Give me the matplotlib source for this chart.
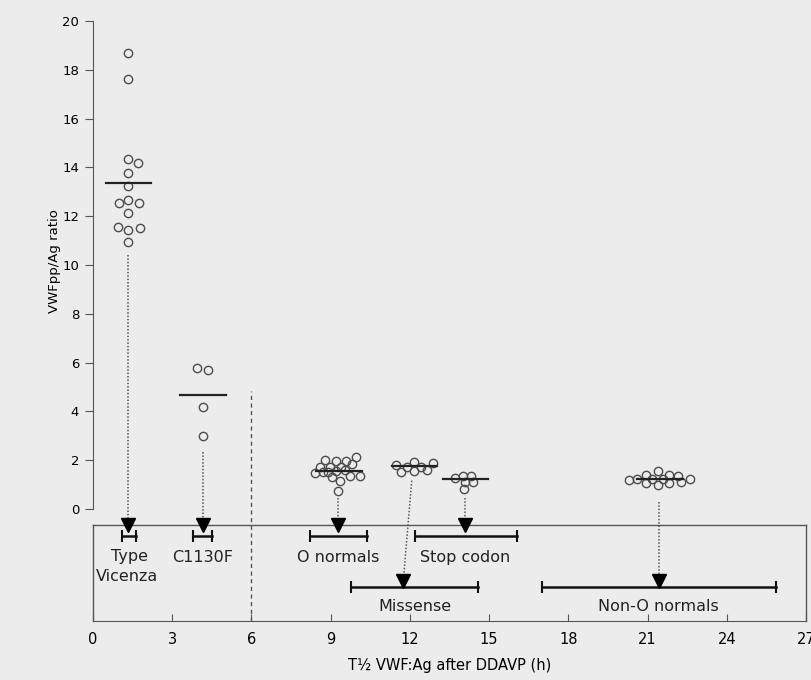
import matplotlib
matplotlib.use('Agg')
import matplotlib.pyplot as plt
import numpy as np

# groups shown in the scatter part (ratio VWFpp/Ag) and their range on T1/2 axis
groups = ['Type\nVicenza', 'C1130F', 'O normals', 'Missense', 'Stop codon', 'Non-O normals']

# individual points: x (hours, with scatter offset) and y (ratio)
vic_x = [1.34, 1.34, 1.34, 1.70, 1.34, 1.34, 1.34, 0.97, 1.73, 1.34, 0.94, 1.34, 1.78, 1.34]
vic_y = [18.7, 17.64, 14.34, 14.2, 13.76, 13.25, 12.66, 12.53, 12.53, 12.14, 11.57, 11.43, 11.53, 10.93]
c11_x = [3.95, 4.37, 4.15, 4.15]
c11_y = [5.79, 5.70, 4.19, 2.99]
onorm_x = [9.95, 8.79, 9.19, 9.57, 8.60, 8.98, 9.39, 9.81, 8.41, 8.72, 9.04, 9.36, 9.73, 10.11, 9.29, 9.20, 9.55, 8.90]
onorm_y = [2.13, 2.00, 1.97, 1.98, 1.73, 1.73, 1.73, 1.84, 1.46, 1.53, 1.32, 1.16, 1.35, 1.36, 0.74, 1.55, 1.60, 1.50]
mis_x = [11.48, 11.67, 11.90, 12.16, 12.16, 12.42, 12.66, 12.89]
mis_y = [1.80, 1.53, 1.71, 1.91, 1.57, 1.73, 1.60, 1.87]
stop_x = [13.71, 14.00, 14.30, 14.09, 14.40, 14.05]
stop_y = [1.26, 1.37, 1.37, 1.09, 1.09, 0.82]
nono_x = [20.28, 20.59, 20.93, 21.39, 21.82, 22.17, 22.61, 20.93, 21.39, 21.82, 22.27, 21.15, 21.60]
nono_y = [1.19, 1.22, 1.39, 1.56, 1.39, 1.35, 1.22, 1.05, 0.98, 1.05, 1.12, 1.25, 1.25]

pts_x = [vic_x, c11_x, onorm_x, mis_x, stop_x, nono_x]
pts_y = [vic_y, c11_y, onorm_y, mis_y, stop_y, nono_y]

# group means (horizontal bar) and centre in hours
mean_x = [1.34, 4.17, 9.32, 12.17, 14.11, 21.47]
mean_y = [13.35, 4.69, 1.56, 1.76, 1.23, 1.24]

# dotted arrows: start (under the cluster) -> x where they land
arrow_x0 = [1.34, 4.15, 9.29, 12.07, 14.09, 21.44]
arrow_y0 = [10.4, 2.35, 0.44, 1.16, 0.45, 0.30]
arrow_x1 = [1.34, 4.15, 9.29, 11.75, 14.09, 21.44]

# T1/2 range of each group (hours)
range_lo = [1.09, 3.80, 8.21, 9.78, 12.18, 17.00]
range_hi = [1.62, 4.52, 10.37, 14.57, 16.06, 25.87]

# layout inside the lower box
row = [0, 0, 0, 1, 0, 1]
bar_y = {0: -1.1, 1: -3.18}
head_y = {0: -0.66, 1: -2.95}
label_y = {0: -2.0, 1: -4.0}

bg = '#ececec'
fig = plt.figure(figsize=(8.12, 6.80), dpi=100, facecolor=bg)
ax = fig.add_axes([93 / 812, 59 / 680, 713 / 812, 600 / 680])
ax.set_facecolor(bg)
ax.set_xlim(0, 27)
ax.set_ylim(-4.59, 20)

for xs, ys in zip(pts_x, pts_y):
    ax.plot(xs, ys, 'o', ls='none', mfc='none', mec='#4d4d4d', ms=6, mew=1.0, zorder=3)

for mx, my in zip(mean_x, mean_y):
    ax.plot([mx - 0.86, mx + 0.86], [my, my], color='#222222', lw=1.6, zorder=4)

# box under the scatter
box_top = -0.66
ax.plot([0, 27], [box_top, box_top], color='#555555', lw=1.0, clip_on=False)
ax.plot([27, 27], [-4.59, box_top], color='#555555', lw=1.0, clip_on=False)
ax.plot([0, 0], [-4.59, box_top], color='#555555', lw=1.0, clip_on=False)

for i in range(len(groups)):
    r = row[i]
    ax.plot([arrow_x0[i], arrow_x1[i]], [arrow_y0[i], head_y[r]], ls=(0, (1, 1.2)),
            color='#555555', lw=1.1)
    ax.plot(arrow_x1[i], head_y[r], 'v', color='black', ms=9.5, zorder=5)
    ax.plot([range_lo[i], range_hi[i]], [bar_y[r], bar_y[r]], color='#111111', lw=1.8,
            marker='|', ms=8, mew=1.5)
    cx = arrow_x1[i]
    if groups[i].startswith('Type'):
        ax.text(1.4, -1.95, 'Type', ha='center', va='center', fontsize=11.5, color='#222222')
        ax.text(1.27, -2.77, 'Vicenza', ha='center', va='center', fontsize=11.5, color='#222222')
    else:
        if r == 1:
            cx = {3: 12.18, 5: 21.4}[i]
        ax.text(cx, label_y[r], groups[i], ha='center', va='center', fontsize=11.5,
                color='#222222')

# group separator
ax.plot([6, 6], [-4.59, 4.85], ls=(0, (3, 2.5)), color='#555555', lw=1.0)

ax.spines['top'].set_visible(False)
ax.spines['right'].set_visible(False)
ax.spines['left'].set_bounds(0, 20)
for s in ['left', 'bottom']:
    ax.spines[s].set_color('#555555')
ax.set_yticks(np.arange(0, 21, 2))
ax.set_xticks(np.arange(0, 28, 3))
ax.tick_params(axis='y', direction='out', length=6, color='#555555', labelsize=9.5, pad=4)
ax.tick_params(axis='x', direction='in', length=5, color='#555555', labelsize=10.5, pad=8)
ax.set_ylabel('VWFpp/Ag ratio', fontsize=9.5, labelpad=10)
ax.set_xlabel('T½ VWF:Ag after DDAVP (h)', fontsize=10.5, labelpad=8)
ax.yaxis.set_label_coords(-0.045, 0.6)

fig.savefig('out.png', dpi=100, facecolor=bg)
